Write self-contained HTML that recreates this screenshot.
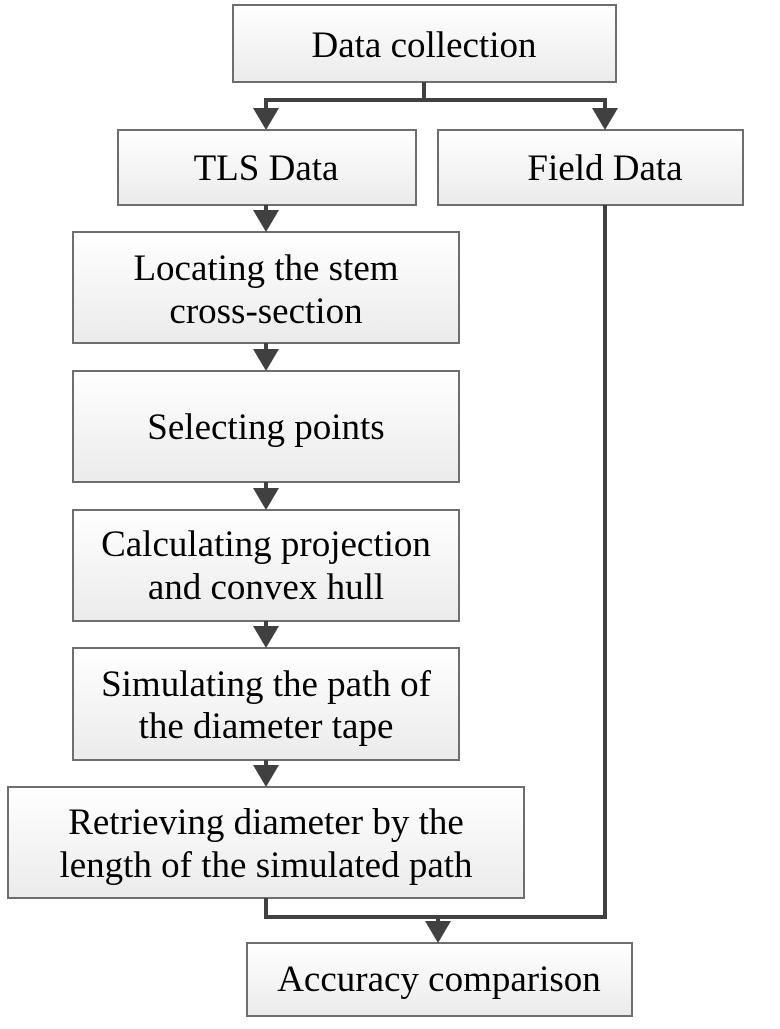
<!DOCTYPE html>
<html><head><style>body{margin:0;background:#fff}</style></head><body>
<svg width="780" height="1024" viewBox="0 0 780 1024" xmlns="http://www.w3.org/2000/svg">
<defs>
<linearGradient id="g" x1="0" y1="0" x2="0" y2="1"><stop offset="0" stop-color="#ffffff"/><stop offset="1" stop-color="#ebebeb"/></linearGradient>
</defs>
<g fill="url(#g)" stroke="#6e6e6e" stroke-width="2">
<rect x="233" y="5" width="383" height="77"/>
<rect x="118" y="130" width="298" height="75"/>
<rect x="438" y="130" width="305" height="75"/>
<rect x="73" y="232" width="386" height="111"/>
<rect x="73" y="371" width="386" height="111"/>
<rect x="73" y="510" width="386" height="111"/>
<rect x="73" y="648" width="386" height="112"/>
<rect x="8" y="787" width="516" height="111"/>
<rect x="247" y="943" width="385" height="73"/>
</g>
<g stroke="#404040" stroke-width="4" fill="none">
<path d="M424 82 V100 M266 114 V100 H605 V114"/>
<path d="M266 205 V216 M266 343 V356 M266 482 V495 M266 621 V633 M266 760 V772"/>
<path d="M266 898 V917 H605 V205 M438 917 V928"/>
</g>
<g fill="#404040">
<polygon points="253,108 279,108 266,130"/>
<polygon points="592,108 618,108 605,130"/>
<polygon points="253,210 279,210 266,232"/>
<polygon points="253,349 279,349 266,371"/>
<polygon points="253,488 279,488 266,510"/>
<polygon points="253,626 279,626 266,648"/>
<polygon points="253,765 279,765 266,787"/>
<polygon points="425,921 451,921 438,943"/>
</g>
<g font-family="Liberation Serif, serif" font-size="37" fill="#000" text-anchor="middle">
<text x="424" y="57">Data collection</text>
<text x="266" y="180">TLS Data</text>
<text x="605" y="180">Field Data</text>
<text x="266" y="280">Locating the stem</text>
<text x="266" y="323">cross-section</text>
<text x="266" y="439">Selecting points</text>
<text x="266" y="556">Calculating projection</text>
<text x="266" y="599">and convex hull</text>
<text x="266" y="696">Simulating the path of</text>
<text x="266" y="738">the diameter tape</text>
<text x="266" y="834">Retrieving diameter by the</text>
<text x="266" y="877">length of the simulated path</text>
<text x="439" y="991">Accuracy comparison</text>
</g>
</svg>
</body></html>
